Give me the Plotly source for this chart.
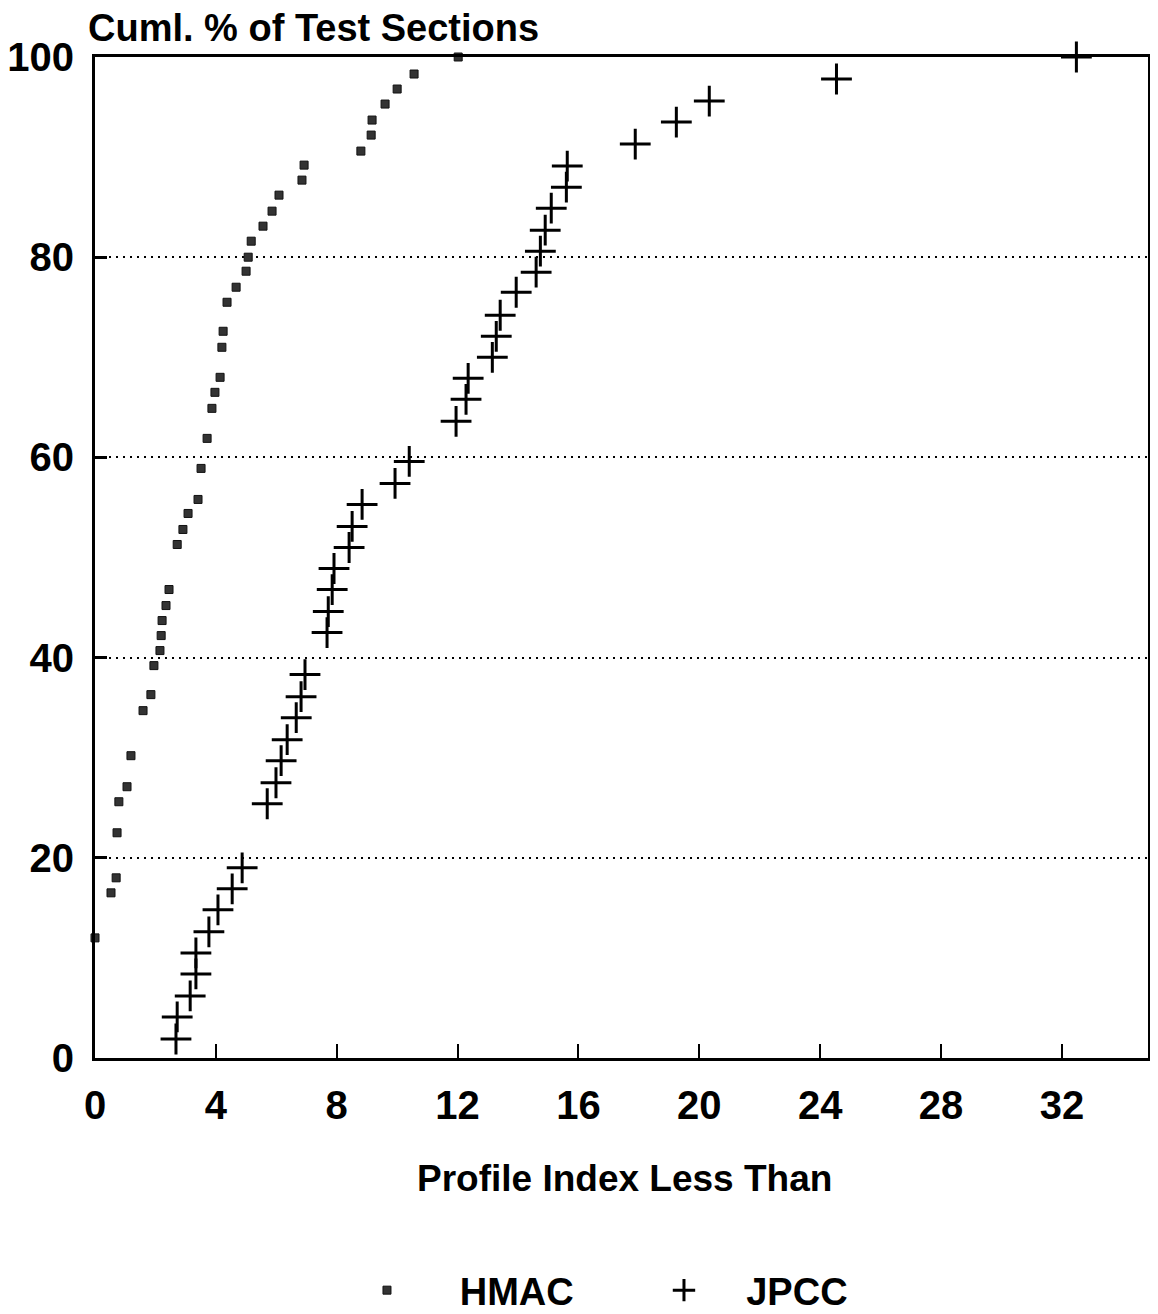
import plotly.graph_objects as go

# HMAC: profile index (x) vs cumulative % of test sections (y)
hmac_x = [0.00, 0.53, 0.70, 0.73, 0.79, 1.06, 1.19, 1.59, 1.85, 1.95, 2.15, 2.19, 2.22,
          2.35, 2.45, 2.72, 2.91, 3.08, 3.41, 3.51, 3.71, 3.87, 3.97, 4.14, 4.20, 4.24,
          4.37, 4.67, 5.00, 5.07, 5.17, 5.56, 5.86, 6.09, 6.85, 6.92, 8.80, 9.14, 9.17,
          9.60, 10.00, 10.56, 12.02]
hmac_y = [12.0, 16.5, 18.0, 22.5, 25.6, 27.1, 30.2, 34.7, 36.3, 39.2, 40.7, 42.2, 43.7,
          45.2, 46.8, 51.3, 52.8, 54.4, 55.8, 58.9, 61.9, 64.9, 66.5, 68.0, 71.0, 72.6,
          75.5, 77.0, 78.6, 80.0, 81.6, 83.1, 84.6, 86.2, 87.7, 89.2, 90.6, 92.2, 93.7,
          95.3, 96.8, 98.3, 100.0]

# JPCC
jpcc_x = [2.68, 2.72, 3.15, 3.34, 3.34, 3.77, 4.07, 4.54, 4.87, 5.70, 5.99, 6.16, 6.36,
          6.66, 6.82, 6.95, 7.68, 7.72, 7.85, 7.91, 8.41, 8.51, 8.84, 9.93, 10.40, 11.95,
          12.28, 12.35, 13.15, 13.28, 13.41, 13.94, 14.60, 14.74, 14.90, 15.10, 15.60,
          15.63, 17.88, 19.24, 20.33, 24.54, 32.48]
jpcc_y = [1.9, 4.1, 6.2, 8.4, 10.5, 12.6, 14.8, 16.9, 19.0, 25.4, 27.5, 29.7, 31.8,
          34.0, 36.1, 38.3, 42.5, 44.6, 46.8, 48.9, 51.0, 53.1, 55.3, 57.4, 59.6, 63.6,
          65.8, 67.9, 70.0, 72.1, 74.2, 76.5, 78.5, 80.6, 82.7, 84.9, 87.0, 89.1, 91.3,
          93.5, 95.6, 97.8, 100.0]

x_ticks = [0, 4, 8, 12, 16, 20, 24, 28, 32]
y_ticks = [0, 20, 40, 60, 80, 100]

FONT = "Liberation Sans, Arial, sans-serif"
NB = "\u00a0"

fig = go.Figure()
fig.add_trace(go.Scatter(
    x=hmac_x, y=hmac_y, mode="markers", name=NB * 5 + "HMAC",
    marker=dict(symbol="square", size=8, color="#333333",
                line=dict(color="#111", width=1)),
    cliponaxis=False,
))
fig.add_trace(go.Scatter(
    x=jpcc_x, y=jpcc_y, mode="markers", name=NB * 4 + "JPCC",
    marker=dict(symbol="cross-thin", size=22, color="black",
                line=dict(color="black", width=3)),
    cliponaxis=False,
))

fig.update_layout(
    width=1158, height=1314,
    margin=dict(l=87, r=18, t=49, b=264, autoexpand=False),
    paper_bgcolor="white", plot_bgcolor="white",
    font=dict(family=FONT, color="black", size=30),
    showlegend=True,
    legend=dict(orientation="h", xref="container", yref="container",
                x=0.310, xanchor="left", y=0.024, yanchor="middle",
                font=dict(family=FONT, size=38, weight="bold"),
                entrywidth=252, itemsizing="trace"),
    xaxis=dict(range=[0, 34.85], tickvals=x_ticks, ticktext=[str(v) for v in x_ticks],
               showgrid=False, zeroline=False, automargin=False,
               showline=True, linecolor="black", linewidth=3, mirror=True,
               ticks="inside", ticklen=14, tickwidth=2, tickcolor="black",
               tickfont=dict(family=FONT, size=40, weight="bold"),
               ticklabelstandoff=10),
    yaxis=dict(range=[0, 100], tickvals=y_ticks, ticktext=[str(v) for v in y_ticks],
               showgrid=True, gridcolor="black", gridwidth=1.5, griddash="2px,5px",
               zeroline=False, automargin=False,
               showline=True, linecolor="black", linewidth=3, mirror=True,
               ticks="inside", ticklen=12, tickwidth=3, tickcolor="black",
               tickfont=dict(family=FONT, size=40, weight="bold"),
               ticklabelstandoff=10),
    annotations=[
        dict(text="Cuml. % of Test Sections", xref="paper", yref="paper",
             x=0, y=1.0, xanchor="left", yanchor="bottom", yshift=6, xshift=-9,
             showarrow=False, font=dict(family=FONT, size=38, weight="bold")),
        dict(text="Profile Index Less Than", xref="paper", yref="paper",
             x=0.503, y=-0.12, xanchor="center", yanchor="middle",
             showarrow=False, font=dict(family=FONT, size=37, weight="bold")),
    ],
)

fig.write_html("out.html")
